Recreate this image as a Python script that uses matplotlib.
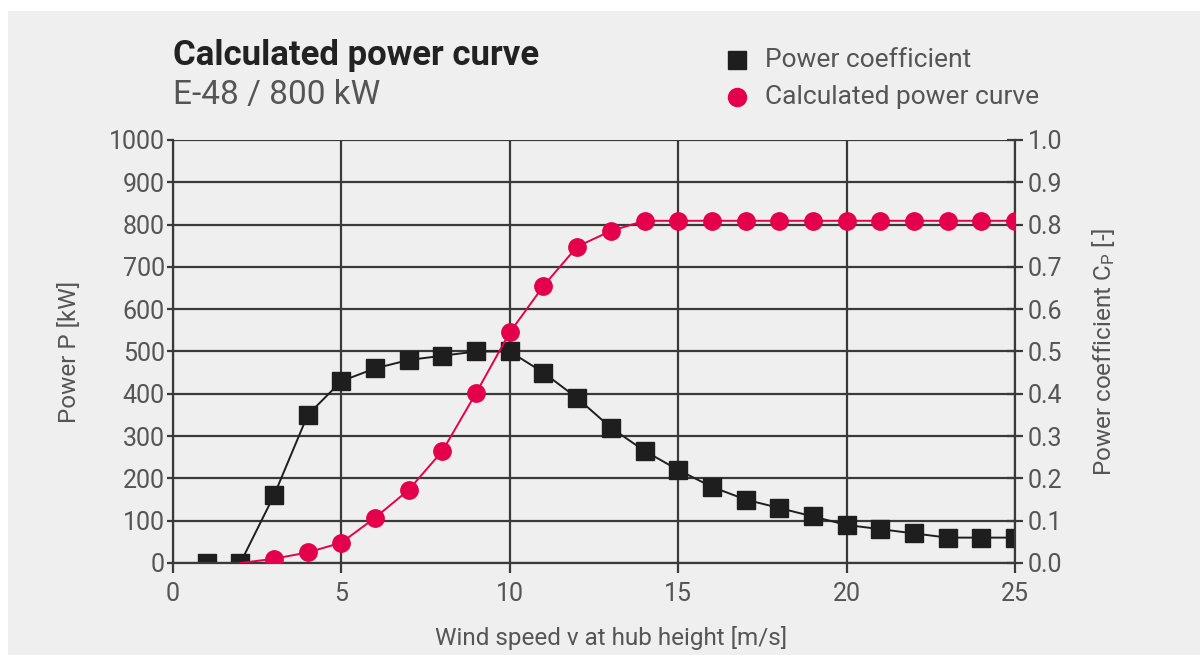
import matplotlib.pyplot as plt
from matplotlib.patches import Rectangle
from matplotlib.lines import Line2D

plt.rcParams['font.family'] = ['Roboto', 'DejaVu Sans']
plt.rcParams['mathtext.default'] = 'regular'

# wind speed [m/s]
wind = list(range(1, 26))
# power coefficient Cp [-]
cp = [0.0, 0.0, 0.16, 0.35, 0.43, 0.46, 0.48, 0.49, 0.50, 0.50,
      0.45, 0.39, 0.32, 0.265, 0.22, 0.18, 0.15, 0.13, 0.11, 0.09,
      0.08, 0.07, 0.06, 0.06, 0.06]
# calculated power [kW], curve starts at 2 m/s
wind_p = list(range(2, 26))
power = [0, 10, 25, 48, 107, 173, 265, 402, 545, 655, 748, 785,
         809, 809, 809, 809, 809, 809, 809, 809, 809, 809, 809, 809]

grey = '#555555'
red = '#e4004b'
dark = '#1e1e1e'
gridc = '#3a3a3a'

fig = plt.figure(figsize=(12, 6.55), dpi=100)
fig.patch.set_facecolor('white')
fig.add_artist(Rectangle((8 / 1200, 0), 1, 1 - 11 / 655, transform=fig.transFigure,
                         facecolor='#efefef', edgecolor='none', zorder=0))

ax_cp = fig.add_axes([173 / 1200, 1 - 563 / 655, (1015 - 173) / 1200, (563 - 140) / 655])
ax_p = ax_cp.twinx()
ax_cp.set_facecolor('none')
ax_p.set_facecolor('none')

# Cp on right, power on left
ax_cp.yaxis.tick_right()
ax_cp.yaxis.set_label_position('right')
ax_p.yaxis.tick_left()
ax_p.yaxis.set_label_position('left')

ax_cp.plot(wind, cp, color=dark, lw=1.4, marker='s', ms=13, mfc=dark, mec=dark, zorder=3)
ax_p.plot(wind_p, power, color=red, lw=1.4, zorder=4)
ax_p.plot(wind_p[1:], power[1:], ls='none', marker='o', ms=12.5, mfc=red, mec=red, zorder=4)

ax_cp.set_xlim(0, 25)
ax_cp.set_ylim(0, 1)
ax_p.set_ylim(0, 1000)
ax_cp.set_xticks([0, 5, 10, 15, 20, 25])
ax_cp.set_yticks([i / 10 for i in range(11)])
ax_cp.set_yticklabels([f'{i / 10:.1f}' for i in range(11)])
ax_p.set_yticks(range(0, 1001, 100))

ax_cp.grid(True, color=gridc, lw=1.6, zorder=1)
for a in (ax_cp, ax_p):
    for s in a.spines.values():
        s.set_visible(False)
for side in ('left', 'right', 'bottom'):
    ax_p.spines[side].set_visible(True)
    ax_p.spines[side].set_color(gridc)
    ax_p.spines[side].set_linewidth(1.6)

fs = 18
ax_cp.tick_params(axis='x', direction='out', length=7, width=1.6, color=gridc,
                  labelsize=fs, labelcolor=grey, pad=7)
ax_cp.tick_params(axis='y', direction='inout', length=12, width=1.6, color=gridc,
                  labelsize=fs, labelcolor=grey, pad=3)
ax_p.tick_params(axis='y', direction='out', length=4, width=1.6, color=gridc,
                 labelsize=fs, labelcolor=grey, pad=2)

ax_p.set_ylabel('Power P [kW]', fontsize=17.5, color=grey, labelpad=20)
ax_cp.set_ylabel('Power coefficient C$_P$ [-]', fontsize=17.5, color=grey, labelpad=20)
ax_cp.set_xlabel('Wind speed v at hub height [m/s]', fontsize=17.5, color=grey)
ax_cp.xaxis.set_label_coords(0.52, -0.148)

fig.text(173 / 1200, 1 - 55 / 655, 'Calculated power curve', fontsize=25, fontweight='bold',
         color='#222222', va='center', ha='left')
fig.text(173 / 1200, 1 - 95 / 655, 'E-48 / 800 kW', fontsize=24, color=grey,
         va='center', ha='left')

# legend
fig.add_artist(Line2D([737 / 1200], [1 - 60 / 655], marker='s', ms=13, color=dark, ls='none',
                      transform=fig.transFigure))
fig.add_artist(Line2D([737 / 1200], [1 - 97 / 655], marker='o', ms=13, color=red, ls='none',
                      transform=fig.transFigure))
fig.text(765 / 1200, 1 - 60 / 655, 'Power coefficient', fontsize=19, color=grey,
         va='center', ha='left')
fig.text(765 / 1200, 1 - 97 / 655, 'Calculated power curve', fontsize=19, color=grey,
         va='center', ha='left')

fig.savefig('out.png', dpi=100, facecolor=fig.get_facecolor())
